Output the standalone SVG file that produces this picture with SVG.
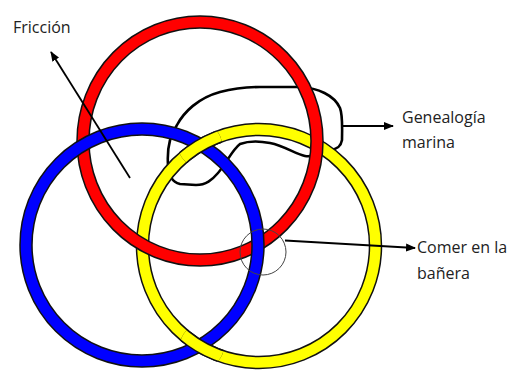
<svg xmlns="http://www.w3.org/2000/svg" width="516" height="372" viewBox="0 0 516 372">
<defs>
<style>
.edge{fill:none;stroke:#111;stroke-width:13.5}
.red{fill:none;stroke:#ff0000;stroke-width:10.5}
.blue{fill:none;stroke:#0000ff;stroke-width:10.5}
.yel{fill:none;stroke:#ffff00;stroke-width:10.5}
.blob{fill:none;stroke:#000;stroke-width:2.6;stroke-linejoin:round}
.ln{fill:none;stroke:#000;stroke-width:1.8}
.lbl{font-family:"Open Sans","Noto Sans",sans-serif;font-size:16px;fill:#222}
</style>
<clipPath id="ybClip">
<circle cx="200" cy="145" r="22"/>
<circle cx="202" cy="346" r="22"/>
</clipPath>
<marker id="ah" markerWidth="10" markerHeight="8" refX="9" refY="4" orient="auto" markerUnits="userSpaceOnUse">
<path d="M0,0 L10,4 L0,8 Z" fill="#000"/>
</marker>
</defs>
<rect width="516" height="372" fill="#fff"/>
<g id="genealogia-shape">
<path class="blob" d="M177,125 C184,112 198,98 220,92 C235,88 245,87 260,87 L300,87 C318,88 334,95 340,108 C343,116 342,130 342,140 C341,146 338,149 330,150 C320,152 315,158 305,156 C295,154 285,146 270,143 C260,141 248,141 240,144 C232,150 226,164 218,173 C212,180 206,185 196,185 L180,184 C172,182 169,176 168,165 C167,150 170,135 177,125 Z"/>
</g>
<g id="yellow-ring">
<circle class="edge" cx="259" cy="246" r="116.5"/>
<circle class="yel" cx="259" cy="246" r="116.5"/>
</g>
<g id="red-ring">
<ellipse class="edge" cx="200" cy="141" rx="117" ry="119"/>
<ellipse class="red" cx="200" cy="141" rx="117" ry="119"/>
</g>
<g id="blue-ring">
<circle class="edge" cx="142" cy="245" r="116"/>
<circle class="blue" cx="142" cy="245" r="116"/>
</g>
<g id="yellow-over-blue" clip-path="url(#ybClip)">
<circle class="edge" cx="259" cy="246" r="116.5"/>
<circle class="yel" cx="259" cy="246" r="116.5"/>
</g>
<g id="highlight-circle">
<circle cx="263" cy="252" r="23" fill="none" stroke="#444" stroke-width="1"/>
</g>
<g id="connectors">
<line class="ln" x1="130" y1="178" x2="51" y2="52" marker-end="url(#ah)"/>
<line class="ln" x1="342" y1="126" x2="393" y2="126" marker-end="url(#ah)"/>
<line class="ln" x1="285" y1="240.5" x2="415" y2="248" marker-end="url(#ah)"/>
</g>
<g id="label-friccion">
<text class="lbl" x="13" y="33">Fricción</text>
</g>
<g id="label-genealogia">
<text class="lbl" x="402" y="123">Genealogía</text>
<text class="lbl" x="402" y="148">marina</text>
</g>
<g id="label-comer">
<text class="lbl" x="417" y="253">Comer en la</text>
<text class="lbl" x="417" y="279">bañera</text>
</g>
</svg>
